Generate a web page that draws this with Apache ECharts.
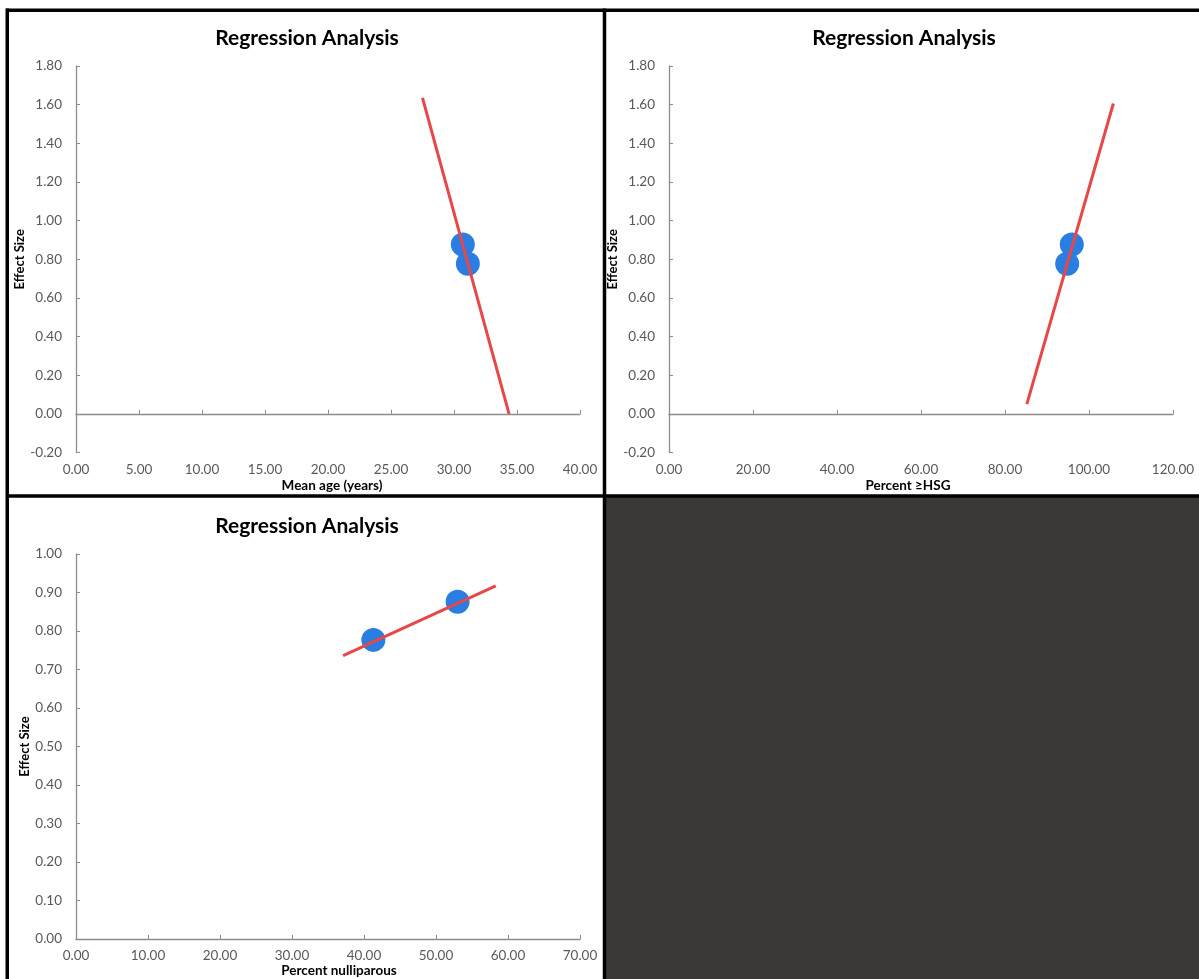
<!DOCTYPE html>
<html>
<head>
<meta charset="utf-8">
<script src="https://cdn.jsdelivr.net/npm/echarts@6/dist/echarts.min.js"></script>
<style>
  html, body { margin: 0; padding: 0; background: #ffffff; }
  #chart { width: 1199px; height: 979px; }
</style>
</head>
<body>
<div id="chart"></div>
<script>
// ---- Data ----
const chartTitle = 'Regression Analysis';
const yAxisTitle = 'Effect Size';
const xAxisTitles = ['Mean age (years)', 'Percent \u2265HSG', 'Percent nulliparous'];

const effectSize = [0.876, 0.777];
const meanAge = [30.7, 31.1];
const pctHSG = [95.9, 94.8];
const pctNulliparous = [53.0, 41.3];

// regression line end points
const ageFitX = [27.5, 34.37];
const ageFitY = [1.635, 0.0];
const hsgFitX = [85.2, 105.8];
const hsgFitY = [0.05, 1.606];
const nullFitX = [37.1, 58.3];
const nullFitY = [0.736, 0.917];

// axis ranges / ticks
const xRanges = [[0, 40, 5], [0, 120, 20], [0, 70, 10]];
const yRanges = [[-0.2, 1.8, 0.2], [-0.2, 1.8, 0.2], [0, 1.0, 0.1]];

// ---- Styling ----
const FONT = 'Lato, "Open Sans", sans-serif';
const LABEL_COLOR = '#595959';
const AXIS_COLOR = '#8c8c8c';
const POINT_COLOR = '#2a7de1';
const LINE_COLOR = '#e8474a';

const grids = [
  { left: 76, top: 66, width: 504, height: 386.5 },
  { left: 669, top: 66, width: 504, height: 386.5 },
  { left: 76, top: 554, width: 504, height: 386 }
];

const pairs = (xs, ys) => xs.map((x, i) => [x, ys[i]]);
const fmt = v => Number(v).toFixed(2);

const xAxes = [];
const yAxes = [];
const series = [];

const xData = [meanAge, pctHSG, pctNulliparous];
const fitX = [ageFitX, hsgFitX, nullFitX];
const fitY = [ageFitY, hsgFitY, nullFitY];
const yNameGaps = [50, 46, 45];
const xNameGaps = [26, 26, 24];
const xNamePads = [[0, 0, 0, 8], [0, 26, 0, 0], [0, 0, 0, 22]];

for (let g = 0; g < 3; g++) {
  const [xmin, xmax, xint] = xRanges[g];
  const [ymin, ymax, yint] = yRanges[g];
  // label axis (bottom of plot)
  const labelAxisIndex = xAxes.length;
  xAxes.push({
    type: 'value', gridIndex: g, min: xmin, max: xmax, interval: xint,
    position: 'bottom',
    axisLine: { show: g === 2, onZero: false, lineStyle: { color: AXIS_COLOR, width: 1.3 } },
    axisTick: { show: g === 2, inside: true, length: 4, lineStyle: { color: AXIS_COLOR } },
    axisLabel: { formatter: fmt, color: LABEL_COLOR, fontFamily: FONT, fontSize: 13.5, margin: 10 },
    splitLine: { show: false },
    name: xAxisTitles[g], nameLocation: 'middle', nameGap: xNameGaps[g],
    nameTextStyle: { fontFamily: FONT, fontWeight: 'bold', fontSize: 13.5, color: '#000', padding: xNamePads[g] }
  });
  if (g !== 2) {
    // zero-crossing axis line with ticks
    xAxes.push({
      type: 'value', gridIndex: g, min: xmin, max: xmax, interval: xint,
      position: 'bottom',
      axisLine: { show: true, onZero: true, lineStyle: { color: AXIS_COLOR, width: 1.3 } },
      axisTick: { show: true, inside: true, length: 4, lineStyle: { color: AXIS_COLOR } },
      axisLabel: { show: false },
      splitLine: { show: false }
    });
  }
  yAxes.push({
    type: 'value', gridIndex: g, min: ymin, max: ymax, interval: yint,
    axisLine: { show: true, onZero: false, lineStyle: { color: AXIS_COLOR, width: 1.3 } },
    axisTick: { show: true, inside: true, length: 4, lineStyle: { color: AXIS_COLOR } },
    axisLabel: { formatter: fmt, color: LABEL_COLOR, fontFamily: FONT, fontSize: 13.5, margin: 14 },
    splitLine: { show: false },
    name: yAxisTitle, nameLocation: 'middle', nameGap: yNameGaps[g], nameRotate: 90,
    nameTextStyle: { fontFamily: FONT, fontWeight: 'bold', fontSize: 13, color: '#000' }
  });
  const yIdx = yAxes.length - 1;
  series.push({
    type: 'scatter', xAxisIndex: labelAxisIndex, yAxisIndex: yIdx,
    data: pairs(xData[g], effectSize),
    symbolSize: 24, itemStyle: { color: POINT_COLOR, opacity: 1 }, z: 2,
    emphasis: { disabled: true }
  });
  series.push({
    type: 'line', xAxisIndex: labelAxisIndex, yAxisIndex: yIdx,
    data: pairs(fitX[g], fitY[g]),
    showSymbol: false, symbol: 'none',
    lineStyle: { color: LINE_COLOR, width: 3 }, z: 3,
    emphasis: { disabled: true }
  });
}

const titleStyle = { fontFamily: FONT, fontWeight: 'bold', fontSize: 21, color: '#000' };
const borderStyle = { stroke: '#000', lineWidth: 3.5 };
const option = {
  backgroundColor: '#ffffff',
  animation: false,
  title: [
    { text: chartTitle, left: 302, top: 23, textAlign: 'center', textStyle: titleStyle },
    { text: chartTitle, left: 899, top: 23, textAlign: 'center', textStyle: titleStyle },
    { text: chartTitle, left: 302, top: 511, textAlign: 'center', textStyle: titleStyle }
  ],
  grid: grids,
  xAxis: xAxes,
  yAxis: yAxes,
  series: series,
  graphic: [
    { type: 'rect', shape: { x: 606, y: 497, width: 600, height: 490 }, style: { fill: '#3b3937' }, z: 100 },
    { type: 'line', shape: { x1: 6, y1: 10.25, x2: 1199, y2: 10.25 }, style: borderStyle, z: 101 },
    { type: 'line', shape: { x1: 7.25, y1: 8.5, x2: 7.25, y2: 979 }, style: borderStyle, z: 101 },
    { type: 'line', shape: { x1: 604.5, y1: 8.5, x2: 604.5, y2: 979 }, style: borderStyle, z: 101 },
    { type: 'line', shape: { x1: 6, y1: 496, x2: 1199, y2: 496 }, style: borderStyle, z: 101 }
  ]
};

const chart = echarts.init(document.getElementById('chart'), null, { renderer: 'canvas' });
chart.setOption(option);
</script>
</body>
</html>
